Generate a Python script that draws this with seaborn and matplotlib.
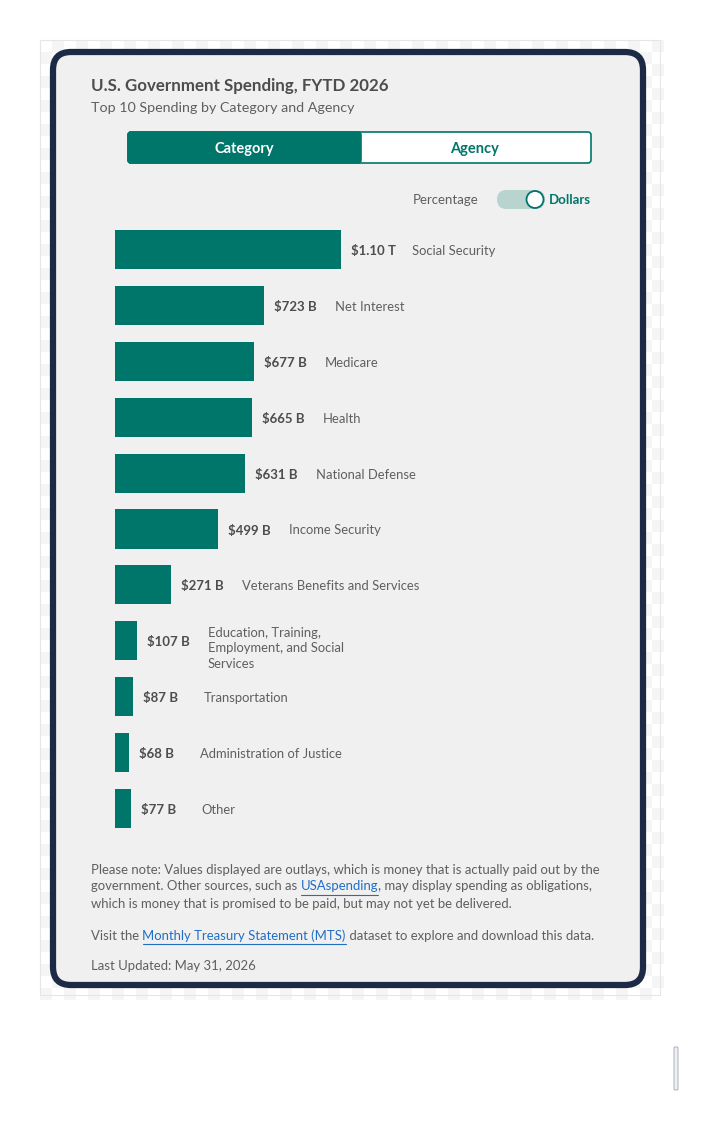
import numpy as np
import pandas as pd
import matplotlib
matplotlib.use("Agg")
import matplotlib.pyplot as plt
from matplotlib.patches import FancyBboxPatch, Circle, Rectangle
import seaborn as sns

# ---------------- data ----------------
categories = ["Social Security", "Net Interest", "Medicare", "Health", "National Defense",
              "Income Security", "Veterans Benefits and Services",
              "Education, Training,\nEmployment, and Social\nServices",
              "Transportation", "Administration of Justice", "Other"]
values_b = [1100, 723, 677, 665, 631, 499, 271, 107, 87, 68, 77]
value_labels = ["$1.10 T", "$723 B", "$677 B", "$665 B", "$631 B", "$499 B",
                "$271 B", "$107 B", "$87 B", "$68 B", "$77 B"]
title = "U.S. Government Spending, FYTD 2026"
subtitle = "Top 10 Spending by Category and Agency"
tabs = ["Category", "Agency"]
toggle_labels = ["Percentage", "Dollars"]
note_line1 = "Please note: Values displayed are outlays, which is money that is actually paid out by the"
note_line2 = [("government. Other sources, such as ", False), ("USAspending", True),
              (", may display spending as obligations,", False)]
note_line3 = "which is money that is promised to be paid, but may not yet be delivered."
visit_line = [("Visit the ", False), ("Monthly Treasury Statement (MTS)", True),
              (" dataset to explore and download this data.", False)]
updated = "Last Updated: May 31, 2026"

TEAL = "#00756a"
GRAY_D = "#4d4d4d"
GRAY = "#5f5f5f"
LINK = "#1f6fc5"
NAVY = "#1c2a45"
CARD = "#f0f0f0"

sns.set_style("white")
plt.rcParams["font.family"] = ["Lato", "DejaVu Sans"]

W, H = 717, 1130
fig = plt.figure(figsize=(W / 100, H / 100), dpi=100)
fig.patch.set_facecolor("white")

bg = fig.add_axes([0, 0, 1, 1])
bg.set_xlim(0, W)
bg.set_ylim(H, 0)
bg.axis("off")

# faint checker background behind card
sq = 12
nx, ny = int((660 - 40) / sq) + 1, int((995 - 40) / sq) + 1
chk = (np.add.outer(np.arange(ny), np.arange(nx)) % 2).astype(float)
bg.imshow(chk, extent=(40, 40 + nx * sq, 40 + ny * sq, 40),
          cmap=matplotlib.colors.ListedColormap(["#ffffff", "#f5f5f5"]),
          interpolation="nearest", zorder=0, aspect="auto")
bg.set_xlim(0, W)
bg.set_ylim(H, 0)
bg.add_patch(Rectangle((40, 40), 620, 955, fill=False, ec="#e6e6e6", lw=0.8, zorder=1))

# card
bg.add_patch(FancyBboxPatch((53, 52), 590, 933, boxstyle="round,pad=0,rounding_size=18",
                            fc=CARD, ec=NAVY, lw=4.5, zorder=2))

# titles
bg.text(91, 85.5, title, fontsize=12.2, fontweight="bold", color=GRAY_D, va="center", ha="left", zorder=3)
bg.text(91, 107.5, subtitle, fontsize=10.3, color=GRAY, va="center", ha="left", zorder=3)

# tab buttons
bg.add_patch(FancyBboxPatch((128, 132), 463, 31, boxstyle="round,pad=0,rounding_size=3",
                            fc="white", ec=TEAL, lw=1.2, zorder=3))
bg.add_patch(FancyBboxPatch((128, 132), 233, 31, boxstyle="round,pad=0,rounding_size=3",
                            fc=TEAL, ec=TEAL, lw=1.2, zorder=4))
bg.text(244, 149, tabs[0], fontsize=10.5, fontweight="bold", color="white", ha="center", va="center", zorder=5)
bg.text(475, 149, tabs[1], fontsize=10.5, fontweight="bold", color=TEAL, ha="center", va="center", zorder=5)

# toggle
bg.text(479, 200, toggle_labels[0], fontsize=9.5, color=GRAY, ha="right", va="center", zorder=5)
bg.add_patch(FancyBboxPatch((497, 190), 48, 19, boxstyle="round,pad=0,rounding_size=9.5",
                            fc="#b9d3cf", ec="none", zorder=4))
bg.add_patch(Circle((535, 199.5), 8.5, fc="white", ec=TEAL, lw=1.3, zorder=5))
bg.text(549, 200, toggle_labels[1], fontsize=9.5, fontweight="bold", color=TEAL, ha="left", va="center", zorder=5)

# notes with inline links
fig.canvas.draw()
renderer = fig.canvas.get_renderer()
NOTE_FS = 9.45


def segments(x, y, parts):
    for txt, is_link in parts:
        t = bg.text(x, y, txt, fontsize=NOTE_FS, color=LINK if is_link else GRAY,
                    ha="left", va="center", zorder=5)
        bb = t.get_window_extent(renderer=renderer)
        if is_link:
            bg.plot([x, x + bb.width], [y + 8, y + 8], color=LINK, lw=0.8, zorder=5)
        x += bb.width


bg.text(91, 869.5, note_line1, fontsize=NOTE_FS, color=GRAY, ha="left", va="center", zorder=5)
segments(91, 886.5, note_line2)
bg.text(91, 903.5, note_line3, fontsize=NOTE_FS, color=GRAY, ha="left", va="center", zorder=5)
segments(91, 935.5, visit_line)
bg.text(91, 965.5, updated, fontsize=NOTE_FS, color=GRAY, ha="left", va="center", zorder=5)

# small scrollbar-like mark bottom right
bg.add_patch(FancyBboxPatch((674, 1047), 4, 43, boxstyle="round,pad=0,rounding_size=1",
                            fc="#eef0f4", ec="#aab0bb", lw=0.7, zorder=3))

# ---------------- bar chart ----------------
left_px, right_px, top_px, bot_px = 115, 615, 222, 836
ax = fig.add_axes([left_px / W, (H - bot_px) / H, (right_px - left_px) / W, (bot_px - top_px) / H])
ax.set_facecolor("none")
df = pd.DataFrame({"category": categories, "value": values_b})
sns.barplot(data=df, x="value", y="category", orient="h", color=TEAL, width=0.70,
            saturation=1, linewidth=0, edgecolor=TEAL, ax=ax, zorder=3)
ax.set_xlim(0, 1100 * 500 / 226)
ax.set_ylim(len(categories) - 0.5, -0.5)
ax.axis("off")

for i, (v, vl, cat) in enumerate(zip(values_b, value_labels, categories)):
    ax.annotate(vl, xy=(v, i), xytext=(10, -1.5), textcoords="offset pixels",
                fontsize=9.5, fontweight="bold", color=GRAY_D, ha="left", va="center")
    dy = -7.5 if "\n" in cat else -1.5
    ax.annotate(cat, xy=(v, i), xytext=(71, dy), textcoords="offset pixels",
                fontsize=9.4, color=GRAY, ha="left", va="center", linespacing=1.35)

fig.savefig("out.png", dpi=100, facecolor="white")
